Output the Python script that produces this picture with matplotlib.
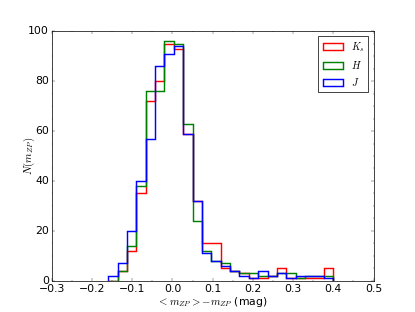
import matplotlib
matplotlib.use('Agg')
import matplotlib.pyplot as plt
from matplotlib.ticker import MultipleLocator
import numpy as np

# bin edges of the zero-point offset histograms (mag)
bin_lo = -0.16
bin_hi = 0.40
n_bins = 24

# counts per bin
counts_ks = [0, 4, 12, 35, 72, 80, 95, 93, 59, 32, 15, 15, 5, 4, 3, 1, 1, 2, 5, 1, 1, 1, 1, 5]
counts_h = [0, 4, 14, 38, 76, 76, 96, 95, 63, 24, 12, 8, 7, 4, 3, 3, 2, 2, 3, 3, 1, 2, 2, 2]
counts_j = [2, 7, 20, 40, 57, 86, 91, 94, 59, 32, 11, 8, 6, 4, 2, 1, 4, 2, 3, 1, 2, 2, 2, 1]

bands = [r'$K_s$', r'$H$', r'$J$']
colors = ['red', 'green', 'blue']

plt.style.use('classic')
dpi = 52
fig = plt.figure(figsize=(415 / dpi, 312 / dpi), dpi=dpi, facecolor='white')
ax = fig.add_subplot(111)

edges = np.linspace(bin_lo, bin_hi, n_bins + 1)
centers = 0.5 * (edges[:-1] + edges[1:])
for counts, band, c in zip([counts_ks, counts_h, counts_j], bands, colors):
    ax.hist(centers, bins=edges, weights=counts, histtype='step',
            color=c, lw=2, label=band)

ax.set_xlim(-0.3, 0.5)
ax.set_ylim(0, 100)
ax.xaxis.set_minor_locator(MultipleLocator(0.05))
ax.yaxis.set_minor_locator(MultipleLocator(5))
ax.tick_params(labelsize=15)
ax.set_xlabel(r'$<m_{ZP}>-m_{ZP}$ (mag)', fontsize=15, labelpad=2)
ax.set_ylabel(r'$N(m_{ZP})$', fontsize=15, labelpad=-12)
ax.legend(loc='upper right', fontsize=14)

plt.savefig('out.png', dpi=dpi, facecolor='white')
